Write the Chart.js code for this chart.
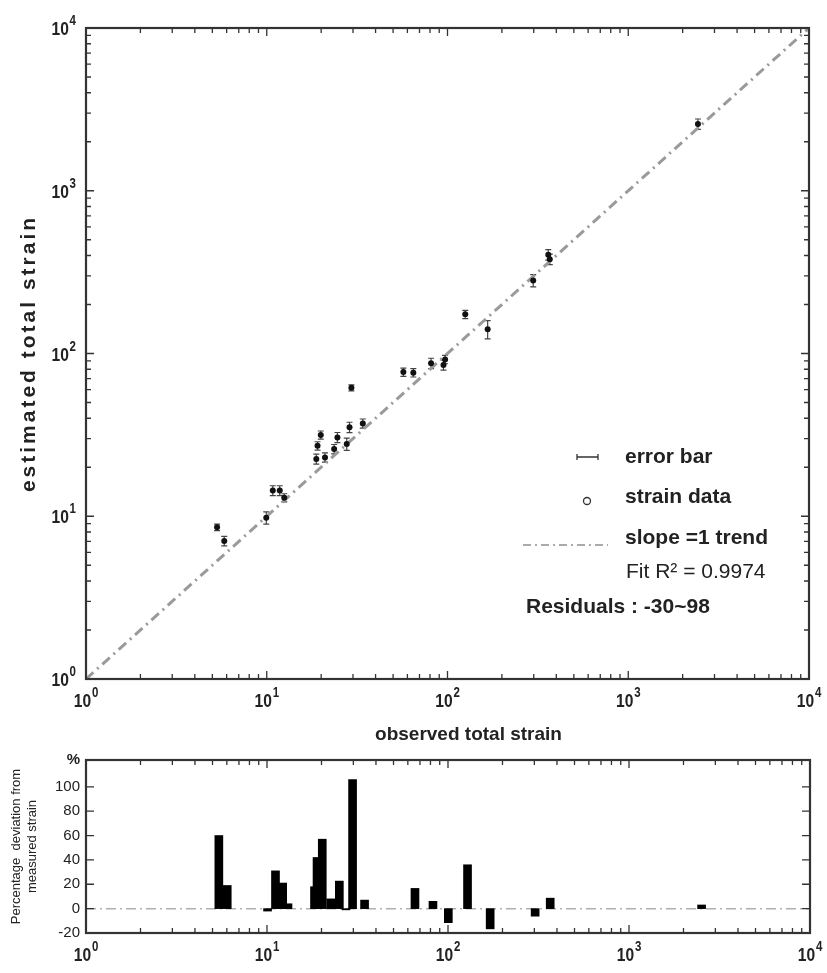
<!DOCTYPE html>
<html><head><meta charset="utf-8">
<script src="https://cdn.jsdelivr.net/npm/chart.js@4.4.1/dist/chart.umd.min.js"></script>
<style>
html,body{margin:0;padding:0;background:#fff;width:827px;height:973px;overflow:hidden}
canvas{position:absolute;left:0}
#top{top:0}
#bot{top:745px}
</style></head><body>
<canvas id="top" width="827" height="745"></canvas>
<canvas id="bot" width="827" height="228"></canvas>
<script>
// ---- data ----
const observedStrain  = [5.31, 5.82, 9.94, 10.8, 11.8, 12.5, 18.8, 19.1, 19.9, 21.0, 23.6, 24.6, 27.7, 28.7, 29.4, 34.0, 57.0, 64.7, 81.1, 95, 97, 125.4, 166.8, 298, 361, 368, 2430];
const estimatedStrain = [8.55, 7.05, 9.8, 14.4, 14.4, 13.0, 22.5, 27.1, 31.6, 23.0, 25.9, 30.5, 27.8, 35.2, 61.6, 37.2, 76.9, 76.2, 87.1, 85, 92, 174, 141, 281, 405, 380, 2570];
const strainError     = [0.4, 0.48, 0.85, 1.0, 1.0, 0.75, 1.6, 1.6, 1.8, 1.5, 1.7, 2.2, 2.4, 2.6, 2.6, 2.4, 4.5, 4.5, 6.4, 6, 5.5, 10, 18, 24, 30, 28, 190];
const trendX = [1, 10000];
const trendY = [1, 10000];
const residualStrain  = [5.42, 6.03, 10.07, 11.14, 12.21, 13.06, 18.3, 18.9, 20.2, 22.5, 25.1, 27.3, 29.7, 34.6, 65.7, 82.6, 100.4, 128.2, 171, 303, 367, 2518];
const residualPercent = [60, 19, -2, 31, 21, 4, 18, 42, 57, 8, 22.6, -1, 106, 7, 16.6, 6, -11.5, 36, -16.6, -6.2, 8.6, 3];
const zeroX = [1, 10000];
const zeroY = [0, 0];
const logTicks = [1, 10, 100, 1000, 10000];
const pctTicks = [-20, 0, 20, 40, 60, 80, 100];
const pctTop = 122;
const legendItems = ['error bar', 'strain data', 'slope =1 trend'];
const fitText = 'Fit R\u00B2 = 0.9974';
const residualText = 'Residuals : -30~98';
const xTitle = 'observed total strain';
const yTitle = 'estimated total strain';
const resTitle = ['Percentage  deviation from', 'measured strain'];

const FONT = "'Liberation Sans', Arial, Helvetica, sans-serif";
const INK = '#222';
const SX = 0.82; // horizontal squeeze of the tick labels

const minorLog = [];
for (let k = 0; k < 4; k++) for (let m = 2; m <= 9; m++) minorLog.push(m * Math.pow(10, k));

function powText(ctx, v, x, baseline, align) {
  const exp = String(Math.round(Math.log10(v)));
  ctx.save();
  ctx.fillStyle = INK;
  ctx.textAlign = 'left';
  ctx.textBaseline = 'alphabetic';
  ctx.font = 'bold 19px ' + FONT;
  const w1 = ctx.measureText('10').width;
  ctx.font = 'bold 14px ' + FONT;
  const w2 = ctx.measureText(exp).width;
  const total = (w1 + w2 + 1) * SX;
  const start = align === 'center' ? x - total / 2 : x - total;
  ctx.translate(start, baseline);
  ctx.scale(SX, 1);
  ctx.font = 'bold 19px ' + FONT;
  ctx.fillText('10', 0, 0);
  ctx.font = 'bold 14px ' + FONT;
  ctx.fillText(exp, w1 + 1, -10);
  ctx.restore();
}

function frameAndTicks(chart, xMaj, xMin, yMaj, yMin) {
  const {ctx, chartArea: a, scales: {x, y}} = chart;
  ctx.save();
  ctx.strokeStyle = '#333';
  ctx.lineWidth = 1.3;
  ctx.beginPath();
  const tick = (vals, len, horiz) => vals.forEach(v => {
    if (horiz) {
      const p = x.getPixelForValue(v);
      ctx.moveTo(p, a.bottom); ctx.lineTo(p, a.bottom - len);
      ctx.moveTo(p, a.top); ctx.lineTo(p, a.top + len);
    } else {
      const p = y.getPixelForValue(v);
      ctx.moveTo(a.left, p); ctx.lineTo(a.left + len, p);
      ctx.moveTo(a.right, p); ctx.lineTo(a.right - len, p);
    }
  });
  tick(xMaj, 8, true); tick(xMin, 5, true);
  tick(yMaj, 8, false); tick(yMin, 5, false);
  ctx.stroke();
  ctx.lineWidth = 2.2;
  ctx.strokeRect(a.left, a.top, a.right - a.left, a.bottom - a.top);
  ctx.restore();
  // x tick labels
  logTicks.forEach(v => powText(ctx, v, x.getPixelForValue(v), a.bottom + 28, 'center'));
}

const topPlugin = {
  id: 'topExtras',
  beforeDatasetsDraw(chart) {
    const {ctx, scales: {x, y}} = chart;
    ctx.save();
    ctx.strokeStyle = '#444';
    ctx.lineWidth = 1.2;
    ctx.beginPath();
    observedStrain.forEach((ox, i) => {
      const px = x.getPixelForValue(ox);
      const y1 = y.getPixelForValue(estimatedStrain[i] + strainError[i]);
      const y2 = y.getPixelForValue(estimatedStrain[i] - strainError[i]);
      ctx.moveTo(px, y1); ctx.lineTo(px, y2);
      ctx.moveTo(px - 3, y1); ctx.lineTo(px + 3, y1);
      ctx.moveTo(px - 3, y2); ctx.lineTo(px + 3, y2);
    });
    ctx.stroke();
    ctx.restore();
  },
  afterDraw(chart) {
    frameAndTicks(chart, logTicks, minorLog, logTicks, minorLog);
    const {ctx, chartArea: a, scales: {y}} = chart;
    logTicks.forEach(v => powText(ctx, v, a.left - 10, y.getPixelForValue(v) + 7, 'right'));
    ctx.save();
    ctx.fillStyle = INK;
    ctx.textBaseline = 'middle';
    // axis titles
    ctx.font = 'bold 19px ' + FONT;
    ctx.textAlign = 'center';
    ctx.fillText(xTitle, (a.left + a.right) / 2 + 21, 735);
    ctx.save();
    ctx.translate(29, (a.top + a.bottom) / 2);
    ctx.rotate(-Math.PI / 2);
    ctx.font = 'bold 21px ' + FONT;
    ctx.letterSpacing = '3px';
    ctx.fillText(yTitle, 0, 0);
    ctx.restore();
    // legend
    ctx.textAlign = 'left';
    ctx.font = 'bold 21px ' + FONT;
    ctx.fillText(legendItems[0], 625, 457);
    ctx.fillText(legendItems[1], 625, 497);
    ctx.fillText(legendItems[2], 625, 538);
    ctx.font = '21px ' + FONT;
    ctx.fillText(fitText, 626, 572);
    ctx.font = 'bold 21px ' + FONT;
    ctx.fillText(residualText, 526, 607);
    // legend symbols
    ctx.strokeStyle = '#333';
    ctx.lineWidth = 1.3;
    ctx.beginPath();
    ctx.moveTo(577, 457); ctx.lineTo(598, 457);
    ctx.moveTo(577, 454); ctx.lineTo(577, 460);
    ctx.moveTo(598, 454); ctx.lineTo(598, 460);
    ctx.stroke();
    ctx.beginPath();
    ctx.arc(587, 501, 3.5, 0, Math.PI * 2);
    ctx.stroke();
    ctx.strokeStyle = '#aaa';
    ctx.lineWidth = 2.2;
    ctx.setLineDash([8, 4, 2, 4]);
    ctx.beginPath();
    ctx.moveTo(523, 545); ctx.lineTo(608, 545);
    ctx.stroke();
    ctx.restore();
  }
};

const botPlugin = {
  id: 'botExtras',
  afterDraw(chart) {
    frameAndTicks(chart, logTicks, minorLog, pctTicks, []);
  }
};

const logAxis = (h) => ({
  type: 'logarithmic', min: 1, max: 10000, offset: false,
  grid: {display: false, drawTicks: false},
  border: {display: false},
  ticks: {display: false},
  afterFit: s => { if (s.isHorizontal()) s.height = h; else s.width = h; s.paddingLeft = 0; s.paddingRight = 0; s.paddingTop = 0; s.paddingBottom = 0; }
});

new Chart(document.getElementById('top'), {
  type: 'scatter',
  data: {
    datasets: [
      {label: 'slope =1 trend', type: 'line', data: trendX.map((v, i) => ({x: v, y: trendY[i]})),
       borderColor: '#9a9a9a', borderWidth: 3, borderDash: [10, 5, 2, 5], pointRadius: 0, fill: false, order: 2},
      {label: 'strain data', data: observedStrain.map((v, i) => ({x: v, y: estimatedStrain[i]})),
       backgroundColor: '#111', borderColor: '#111', borderWidth: 0, pointRadius: 3, order: 1}
    ]
  },
  options: {
    responsive: false, animation: false, devicePixelRatio: 1,
    layout: {padding: {top: 28, right: 18, left: 0, bottom: 0}},
    plugins: {legend: {display: false}, tooltip: {enabled: false}},
    scales: {
      x: logAxis(66),
      y: logAxis(86)
    }
  },
  plugins: [topPlugin]
});

new Chart(document.getElementById('bot'), {
  type: 'bar',
  data: {
    datasets: [
      {type: 'line', data: zeroX.map((v, i) => ({x: v, y: zeroY[i]})), borderColor: '#b0b0b0', borderWidth: 1.5,
       borderDash: [10, 4, 2, 4], pointRadius: 0, fill: false, order: 2},
      {type: 'bar', data: residualStrain.map((v, i) => ({x: v, y: residualPercent[i]})),
       backgroundColor: '#000', borderWidth: 0, barThickness: 8, order: 1}
    ]
  },
  options: {
    responsive: false, animation: false, devicePixelRatio: 1,
    layout: {padding: {top: 13, right: 17, left: 0, bottom: 0}},
    plugins: {legend: {display: false}, tooltip: {enabled: false}},
    scales: {
      x: logAxis(40),
      y: {
        type: 'linear', min: -20, max: pctTop,
        grid: {display: false, drawTicks: false}, border: {display: false},
        afterBuildTicks: s => { s.ticks = pctTicks.concat([pctTop]).map(v => ({value: v})); },
        afterFit: s => { s.width = 86; },
        ticks: {callback: v => (v === pctTop ? '%' : String(v)), color: INK, padding: 6,
                font: c => (c.tick && c.tick.value === pctTop ? {family: FONT, size: 15, weight: 'bold'} : {family: FONT, size: 15})},
        title: {display: true, text: resTitle, color: INK, font: {family: FONT, size: 13}, padding: {top: 9, bottom: 0}}
      }
    }
  },
  plugins: [botPlugin]
});
</script>
</body></html>
